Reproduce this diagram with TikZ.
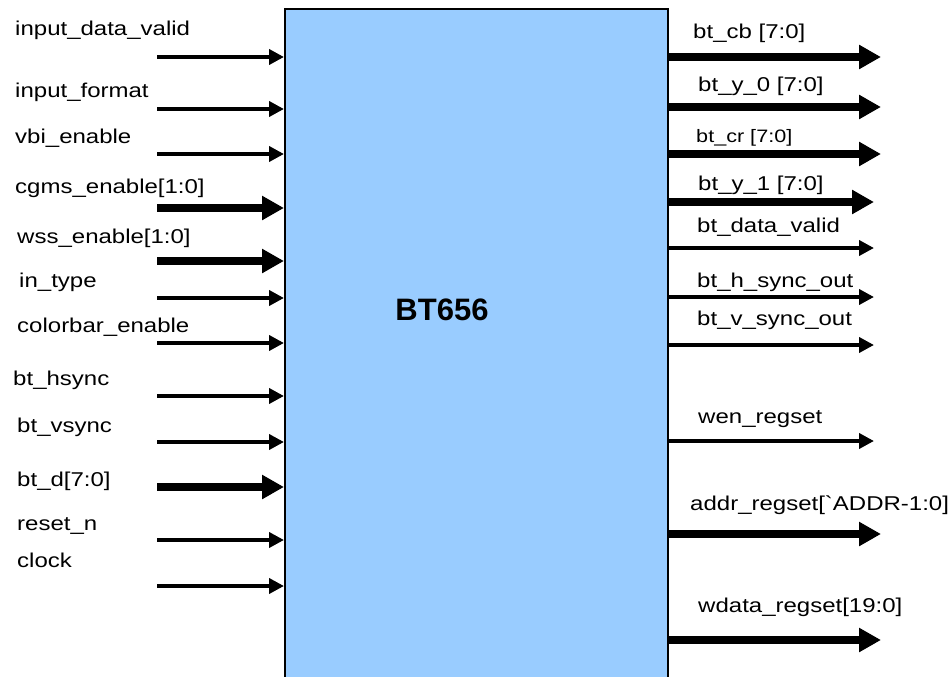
\documentclass[tikz,border=0pt]{standalone}
\usepackage{fontspec}
\setmainfont{Liberation Sans}
\usetikzlibrary{arrows.meta}
\definecolor{boxblue}{HTML}{99CCFF}
\tikzset{
  blk/.style={draw=black, line width=2pt, fill=boxblue, inner sep=0pt},
  thinsig/.style={line width=3.8pt, -{Triangle[length=15pt,width=15pt]}},
  thicksig/.style={line width=7.5pt, -{Triangle[length=22pt,width=23pt]}},
  lbl/.style={font=\fontsize{20}{24}\selectfont, inner sep=0pt, anchor=base west, xscale=1.2, transform shape},
  smlbl/.style={lbl, font=\fontsize{18}{22}\selectfont},
  ttl/.style={font=\fontsize{31}{36}\selectfont\bfseries, inner sep=0pt, anchor=base}
}
\begin{document}
\begin{tikzpicture}[x=1pt,y=-1pt]
\useasboundingbox (0,0) rectangle (951,677);
\clip (0,0) rectangle (951,677);
\fill[white] (0,0) rectangle (951,677);
\node[blk, anchor=north west, minimum width=383pt, minimum height=700pt] (bt) at (284,8) {};
\node[ttl] (title) at (442,320) {BT656};
% input labels
\node[lbl] (l1) at (15,36) {input\_data\_valid};
\node[lbl] (l2) at (15,98) {input\_format};
\node[lbl] (l3) at (15,143) {vbi\_enable};
\node[lbl] (l4) at (15,193) {cgms\_enable[1:0]};
\node[lbl] (l5) at (17,243) {wss\_enable[1:0]};
\node[lbl] (l6) at (19,287) {in\_type};
\node[lbl] (l7) at (17,332) {colorbar\_enable};
\node[lbl] (l8) at (13,385) {bt\_hsync};
\node[lbl] (l9) at (17,432) {bt\_vsync};
\node[lbl] (l10) at (17,486) {bt\_d[7:0]};
\node[lbl] (l11) at (17,530) {reset\_n};
\node[lbl] (l12) at (17,567) {clock};
% input arrow starts
\coordinate (i1) at (157,57);
\coordinate (i2) at (157,109);
\coordinate (i3) at (157,154);
\coordinate (i4) at (157,208);
\coordinate (i5) at (157,261);
\coordinate (i6) at (157,298);
\coordinate (i7) at (157,343);
\coordinate (i8) at (157,396);
\coordinate (i9) at (157,442);
\coordinate (i10) at (157,487);
\coordinate (i11) at (157,540);
\coordinate (i12) at (157,586);
\foreach \n in {1,2,3,6,7,8,9,11,12} \draw[thinsig] (i\n) -- (i\n -| bt.west);
\foreach \n in {4,5,10} \draw[thicksig] (i\n) -- (i\n -| bt.west);
% output labels
\node[lbl] (r1) at (693,39) {bt\_cb [7:0]};
\node[lbl] (r2) at (698,92) {bt\_y\_0 [7:0]};
\node[smlbl] (r3) at (696,142) {bt\_cr [7:0]};
\node[lbl] (r4) at (698,190) {bt\_y\_1 [7:0]};
\node[lbl] (r5) at (697,232) {bt\_data\_valid};
\node[lbl] (r6) at (697,287) {bt\_h\_sync\_out};
\node[lbl] (r7) at (697,325) {bt\_v\_sync\_out};
\node[lbl] (r8) at (698,423) {wen\_regset};
\node[lbl] (r9) at (690,510) {addr\_regset[\textasciigrave ADDR-1:0]};
\node[lbl] (r10) at (698,612) {wdata\_regset[19:0]};
% output arrow ends
\coordinate (o1) at (881,57);
\coordinate (o2) at (881,107);
\coordinate (o3) at (881,154);
\coordinate (o4) at (874,202);
\coordinate (o5) at (874,248);
\coordinate (o6) at (874,297);
\coordinate (o7) at (874,345);
\coordinate (o8) at (874,441);
\coordinate (o9) at (881,534);
\coordinate (o10) at (881,640);
\foreach \n in {1,2,3,4,9,10} \draw[thicksig] (bt.east |- o\n) -- (o\n);
\foreach \n in {5,6,7,8} \draw[thinsig] (bt.east |- o\n) -- (o\n);
\end{tikzpicture}
\end{document}
